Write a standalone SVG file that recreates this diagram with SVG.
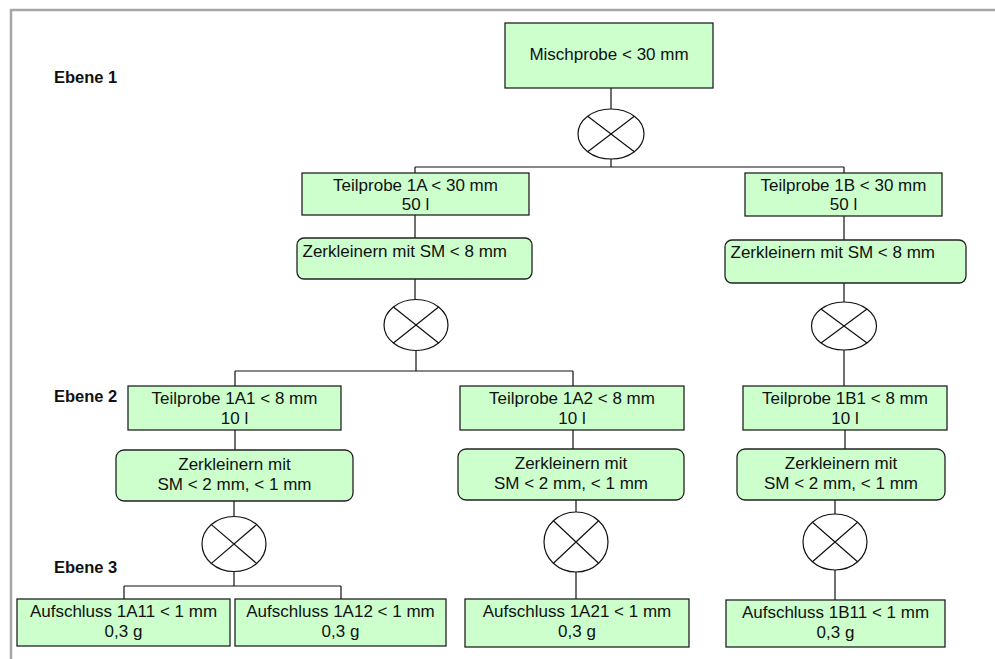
<svg xmlns="http://www.w3.org/2000/svg" width="995" height="659" viewBox="0 0 995 659">
<style>
.box{fill:#ccffcc;stroke:#222;stroke-width:1.3}
.mix{fill:#fff;stroke:#111;stroke-width:1.2}
.ln{stroke:#111;stroke-width:1.2;fill:none}
.t{font-family:"Liberation Sans",Arial,sans-serif;font-size:17px;fill:#111;text-anchor:middle}
.tl{font-family:"Liberation Sans",Arial,sans-serif;font-size:17px;fill:#111}
.lv{font-family:"Liberation Sans",Arial,sans-serif;font-size:16.5px;font-weight:bold;fill:#111}
</style>
<rect width="995" height="659" fill="#fff"/>
<path d="M11,659 V10 H995" fill="none" stroke="#a6a6a6" stroke-width="2.5"/>
<g id="labels">
<text class="lv" x="54" y="83">Ebene 1</text>
<text class="lv" x="54" y="402">Ebene 2</text>
<text class="lv" x="54" y="573">Ebene 3</text>
</g>
<g id="connectors">
<path class="ln" d="M611,88 V109 M611,159 V167 M415,167 H844 M415,167 V173 M844,167 V173"/>
<path class="ln" d="M415,215 V238 M415,279 V299.5 M416,350.5 V371 M235,371 H573 M235,371 V386 M573,371 V386"/>
<path class="ln" d="M844,216 V240 M844,283 V302 M844,350 V386"/>
<path class="ln" d="M235,430 V450 M234,501 V516.5 M234,571.5 V586 M124,586 H341 M124,586 V599 M341,586 V599"/>
<path class="ln" d="M573,430 V449 M576,500 V512 M576,572 V599"/>
<path class="ln" d="M845,430 V449 M835,500 V514 M835,570 V600"/>
</g>
<g id="mischprobe">
<rect class="box" x="505" y="23" width="208" height="65"/>
<text class="t" x="609" y="60">Mischprobe &lt; 30 mm</text>
</g>
<g id="mix0">
<ellipse class="mix" cx="611" cy="134" rx="33" ry="25"/>
<path class="ln" d="M587.7,116.3 L634.3,151.7 M634.3,116.3 L587.7,151.7"/>
</g>
<g id="teilprobe1A">
<rect class="box" x="302" y="173" width="227" height="42"/>
<text class="t" x="415.5" y="191">Teilprobe 1A &lt; 30 mm</text>
<text class="t" x="415.5" y="210">50 l</text>
</g>
<g id="teilprobe1B">
<rect class="box" x="745" y="173" width="197" height="43"/>
<text class="t" x="843.5" y="191">Teilprobe 1B &lt; 30 mm</text>
<text class="t" x="843.5" y="210">50 l</text>
</g>
<g id="zerkleinern1A">
<rect class="box" x="297" y="238" width="235" height="41" rx="7"/>
<text class="tl" x="302.5" y="257">Zerkleinern mit SM &lt; 8 mm</text>
</g>
<g id="zerkleinern1B">
<rect class="box" x="725" y="240" width="241" height="43" rx="7"/>
<text class="tl" x="730.5" y="257.5">Zerkleinern mit SM &lt; 8 mm</text>
</g>
<g id="mix1A">
<ellipse class="mix" cx="416" cy="325" rx="32" ry="25.5"/>
<path class="ln" d="M393.4,307 L438.6,343 M438.6,307 L393.4,343"/>
</g>
<g id="mix1B">
<ellipse class="mix" cx="844" cy="326" rx="32.5" ry="24"/>
<path class="ln" d="M821,309 L867,343 M867,309 L821,343"/>
</g>
<g id="teilprobe1A1">
<rect class="box" x="128" y="386" width="213" height="44"/>
<text class="t" x="234.5" y="403.5">Teilprobe 1A1 &lt; 8 mm</text>
<text class="t" x="234.5" y="423.5">10 l</text>
</g>
<g id="teilprobe1A2">
<rect class="box" x="460" y="386" width="224" height="44"/>
<text class="t" x="572" y="403.5">Teilprobe 1A2 &lt; 8 mm</text>
<text class="t" x="572" y="423.5">10 l</text>
</g>
<g id="teilprobe1B1">
<rect class="box" x="743" y="386" width="204" height="44"/>
<text class="t" x="845" y="403.5">Teilprobe 1B1 &lt; 8 mm</text>
<text class="t" x="845" y="423.5">10 l</text>
</g>
<g id="zerkleinern1A1">
<rect class="box" x="116" y="450" width="237" height="51" rx="8"/>
<text class="t" x="234.5" y="470">Zerkleinern mit</text>
<text class="t" x="234.5" y="490">SM &lt; 2 mm, &lt; 1 mm</text>
</g>
<g id="zerkleinern1A2">
<rect class="box" x="458" y="449" width="226" height="51" rx="8"/>
<text class="t" x="571" y="469">Zerkleinern mit</text>
<text class="t" x="571" y="489">SM &lt; 2 mm, &lt; 1 mm</text>
</g>
<g id="zerkleinern1B1">
<rect class="box" x="737" y="449" width="208" height="51" rx="8"/>
<text class="t" x="841" y="469">Zerkleinern mit</text>
<text class="t" x="841" y="489">SM &lt; 2 mm, &lt; 1 mm</text>
</g>
<g id="mix1A1">
<ellipse class="mix" cx="234" cy="544" rx="32" ry="27.5"/>
<path class="ln" d="M211.4,524.6 L256.6,563.4 M256.6,524.6 L211.4,563.4"/>
</g>
<g id="mix1A2">
<ellipse class="mix" cx="576" cy="542" rx="32" ry="30"/>
<path class="ln" d="M553.4,520.8 L598.6,563.2 M598.6,520.8 L553.4,563.2"/>
</g>
<g id="mix1B1">
<ellipse class="mix" cx="835" cy="542" rx="32" ry="28"/>
<path class="ln" d="M812.4,522.2 L857.6,561.8 M857.6,522.2 L812.4,561.8"/>
</g>
<g id="aufschluss1A11">
<rect class="box" x="17" y="599" width="213" height="47"/>
<text class="t" x="123.5" y="617">Aufschluss 1A11 &lt; 1 mm</text>
<text class="t" x="123.5" y="637">0,3 g</text>
</g>
<g id="aufschluss1A12">
<rect class="box" x="235" y="599" width="211" height="47"/>
<text class="t" x="340.5" y="617">Aufschluss 1A12 &lt; 1 mm</text>
<text class="t" x="340.5" y="637">0,3 g</text>
</g>
<g id="aufschluss1A21">
<rect class="box" x="465" y="599" width="224" height="48"/>
<text class="t" x="577" y="617">Aufschluss 1A21 &lt; 1 mm</text>
<text class="t" x="577" y="637">0,3 g</text>
</g>
<g id="aufschluss1B11">
<rect class="box" x="726" y="600" width="219" height="47"/>
<text class="t" x="835.5" y="618">Aufschluss 1B11 &lt; 1 mm</text>
<text class="t" x="835.5" y="638">0,3 g</text>
</g>
</svg>
